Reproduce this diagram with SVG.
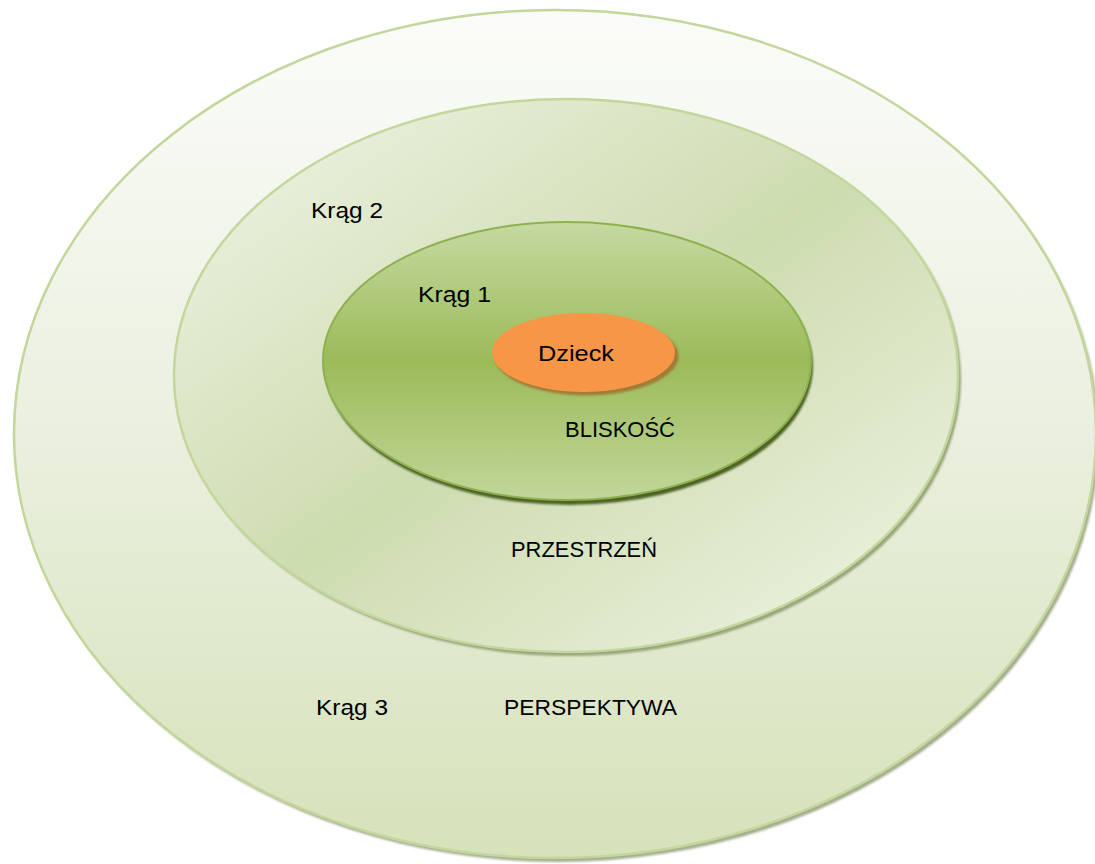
<svg xmlns="http://www.w3.org/2000/svg" width="1095" height="864" viewBox="0 0 1095 864">
  <defs>
    <linearGradient id="gOuter" x1="0" y1="0" x2="0" y2="1">
      <stop offset="0" stop-color="#fbfcf9"/>
      <stop offset="0.45" stop-color="#ecf1e2"/>
      <stop offset="1" stop-color="#d6e2ba"/>
    </linearGradient>
    <linearGradient id="gMiddle" x1="0" y1="0" x2="1" y2="1">
      <stop offset="0" stop-color="#f1f5e8"/>
      <stop offset="0.5" stop-color="#cedcb0"/>
      <stop offset="1" stop-color="#f0f5e6"/>
    </linearGradient>
    <linearGradient id="gInner" x1="0" y1="0" x2="0" y2="1">
      <stop offset="0" stop-color="#c6d9a2"/>
      <stop offset="0.5" stop-color="#9bbb59"/>
      <stop offset="1" stop-color="#c2d69a"/>
    </linearGradient>
    <filter id="blur" x="-5%" y="-5%" width="110%" height="110%">
      <feGaussianBlur stdDeviation="1.2"/>
    </filter>
  </defs>
  <style>
    .lbl { font-family: "Liberation Sans", Arial, sans-serif; font-size: 22px; fill: #000000; }
  </style>
  <rect width="1095" height="864" fill="#ffffff"/>

  <g id="krag3">
    <ellipse cx="558" cy="438" rx="541" ry="424" fill="#a4ad8f" filter="url(#blur)"/>
    <ellipse cx="555" cy="434" rx="541" ry="424" fill="url(#gOuter)" stroke="#c3d69b" stroke-width="2.5"/>
    <text class="lbl" x="316" y="715" textLength="72" lengthAdjust="spacingAndGlyphs">Krąg 3</text>
    <text class="lbl" x="504" y="715" textLength="173" lengthAdjust="spacingAndGlyphs">PERSPEKTYWA</text>
  </g>

  <g id="krag2">
    <ellipse cx="569" cy="379" rx="392" ry="277" fill="#98a67c" filter="url(#blur)"/>
    <ellipse cx="566" cy="375.5" rx="392" ry="276.5" fill="url(#gMiddle)" stroke="#c3d69b" stroke-width="2.5"/>
    <text class="lbl" x="311" y="218" textLength="72" lengthAdjust="spacingAndGlyphs">Krąg 2</text>
    <text class="lbl" x="511" y="557" textLength="146" lengthAdjust="spacingAndGlyphs">PRZESTRZEŃ</text>
  </g>

  <g id="krag1">
    <ellipse cx="569" cy="366" rx="244" ry="139" fill="#4f6228" filter="url(#blur)"/>
    <ellipse cx="567" cy="361" rx="244" ry="139" fill="url(#gInner)" stroke="#8eb14f" stroke-width="2"/>
    <text class="lbl" x="418" y="302" textLength="73" lengthAdjust="spacingAndGlyphs">Krąg 1</text>
    <text class="lbl" x="565" y="437" textLength="110" lengthAdjust="spacingAndGlyphs">BLISKOŚĆ</text>
  </g>

  <g id="dziecko">
    <ellipse cx="586.5" cy="356" rx="92" ry="39.5" fill="#9f7d36" filter="url(#blur)"/>
    <ellipse cx="583.5" cy="352.5" rx="91.5" ry="39.5" fill="#f79646"/>
    <text class="lbl" x="538" y="361" textLength="76" lengthAdjust="spacingAndGlyphs">Dzieck</text>
  </g>

  <g id="connectors"/>
</svg>
